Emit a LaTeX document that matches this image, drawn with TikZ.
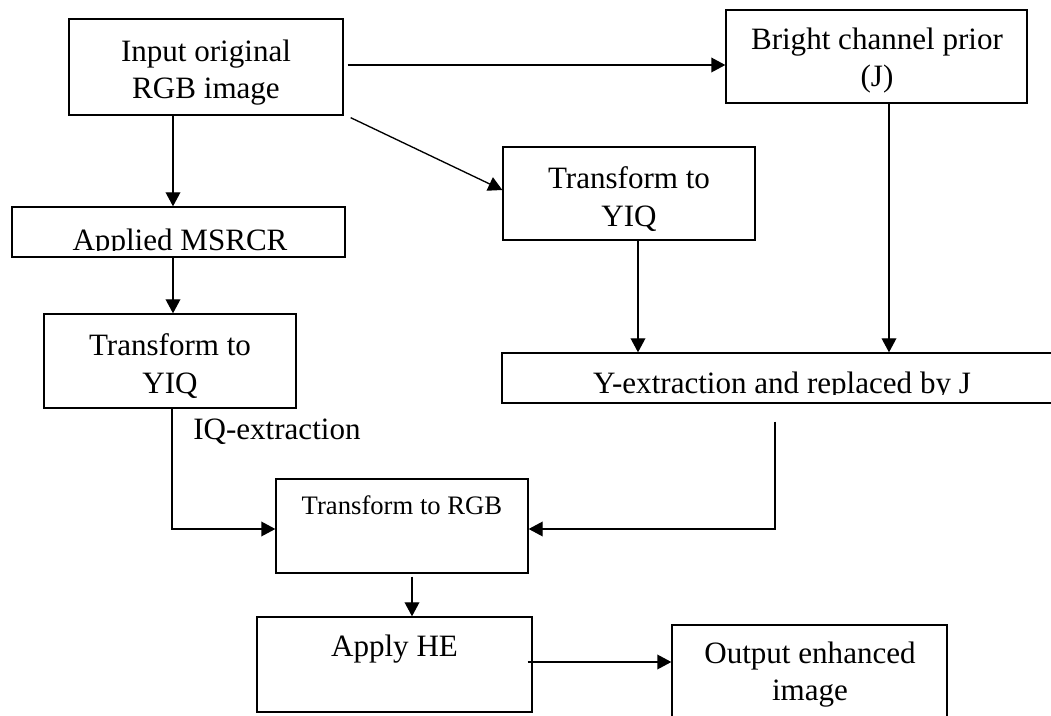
\documentclass[tikz,border=0pt]{standalone}
\usepackage{fontspec}
\setmainfont{Liberation Serif}
\usetikzlibrary{fit,arrows.meta,calc}
\begin{document}
\begin{tikzpicture}[x=0.75pt,y=-0.75pt,
  box/.style={draw,line width=1pt,inner sep=0pt},
  txt/.style={font=\fontsize{23.3}{28}\selectfont,align=center,inner sep=0pt},
  smalltxt/.style={font=\fontsize{20}{24}\selectfont,inner sep=0pt},
  arr/.style={line width=1pt,-{Triangle[length=10.5pt,width=11pt]}},
  ln/.style={line width=1pt}]
\clip (0,0) rectangle (1051,716);
\fill[white] (0,0) rectangle (1051,716);

% boxes
\node[box,fit={(69,19) (343,115)}] (input) {};
\node[box,fit={(726,10) (1027,103)}] (bright) {};
\node[box,fit={(503,147) (755,240)}] (yiqR) {};
\node[box,fit={(12,207) (345,257)}] (msrcr) {};
\node[box,fit={(44,314) (296,408)}] (yiqL) {};
\node[box,fit={(502,353) (1070,403)}] (yext) {};
\node[box,fit={(276,479) (528,573)}] (rgb) {};
\node[box,fit={(257,617) (532,712)}] (he) {};
\node[box,fit={(672,625) (947,740)}] (out) {};

% texts
\node[txt] (tinput) at (206,72.5) {Input original\\RGB image};
\node[txt] (tbright) at (877,60.5) {Bright channel prior\\(J)};
\node[txt] (tyiqR) at (629,199) {Transform to\\YIQ};
\node[txt] (tyiqL) at (170,366) {Transform to\\YIQ};
\node[txt] (tout) at (810,674.5) {Output enhanced\\image};
\begin{scope}
  \clip (12,207) rectangle (345,251);
  \node[txt,anchor=base] (tmsrcr) at (180,250.5) {Applied MSRCR};
\end{scope}
\begin{scope}
  \clip (502,353) rectangle (1070,395);
  \node[txt,anchor=base] (tyext) at (782,393.5) {Y-extraction and replaced by J};
\end{scope}
\node[smalltxt,anchor=base] (trgb) at (402,515) {Transform to RGB};
\node[txt,anchor=base] (the) at (394.5,657) {Apply HE};
\node[txt,anchor=base west] (tiq) at (193,440) {IQ-extraction};

% connectors
\draw[arr] ([shift={(4,-2)}]input.east) -- ([shift={(0,-2)}]input.east -| bright.west);
\draw[arr] ([shift={(-33,0)}]input.south) -- ([shift={(-33,0)}]input.south |- msrcr.north);
\draw[arr] ([shift={(7,2)}]input.south east) -- ([shift={(0,-3.5)}]yiqR.west);
\draw[arr] ([shift={(-5.5,0)}]msrcr.south) -- ([shift={(-5.5,0)}]msrcr.south |- yiqL.north);
\draw[arr] ([shift={(9,0)}]yiqR.south) -- ([shift={(9,0)}]yiqR.south |- yext.north);
\draw[arr] ([shift={(12.5,0)}]bright.south) -- ([shift={(12.5,0)}]bright.south |- yext.north);
\draw[arr] ([shift={(-11,18)}]yext.south) |- ([shift={(0,3)}]rgb.east);
\draw[arr] ([shift={(2,0)}]yiqL.south) |- ([shift={(0,3)}]rgb.west);
\draw[arr] ([shift={(10,3)}]rgb.south) -- ([shift={(10,0)}]rgb.south |- he.north);
\draw[arr] ([shift={(-5,-2.5)}]he.east) -- ([shift={(0,-2.5)}]he.east -| out.west);
\end{tikzpicture}
\end{document}
